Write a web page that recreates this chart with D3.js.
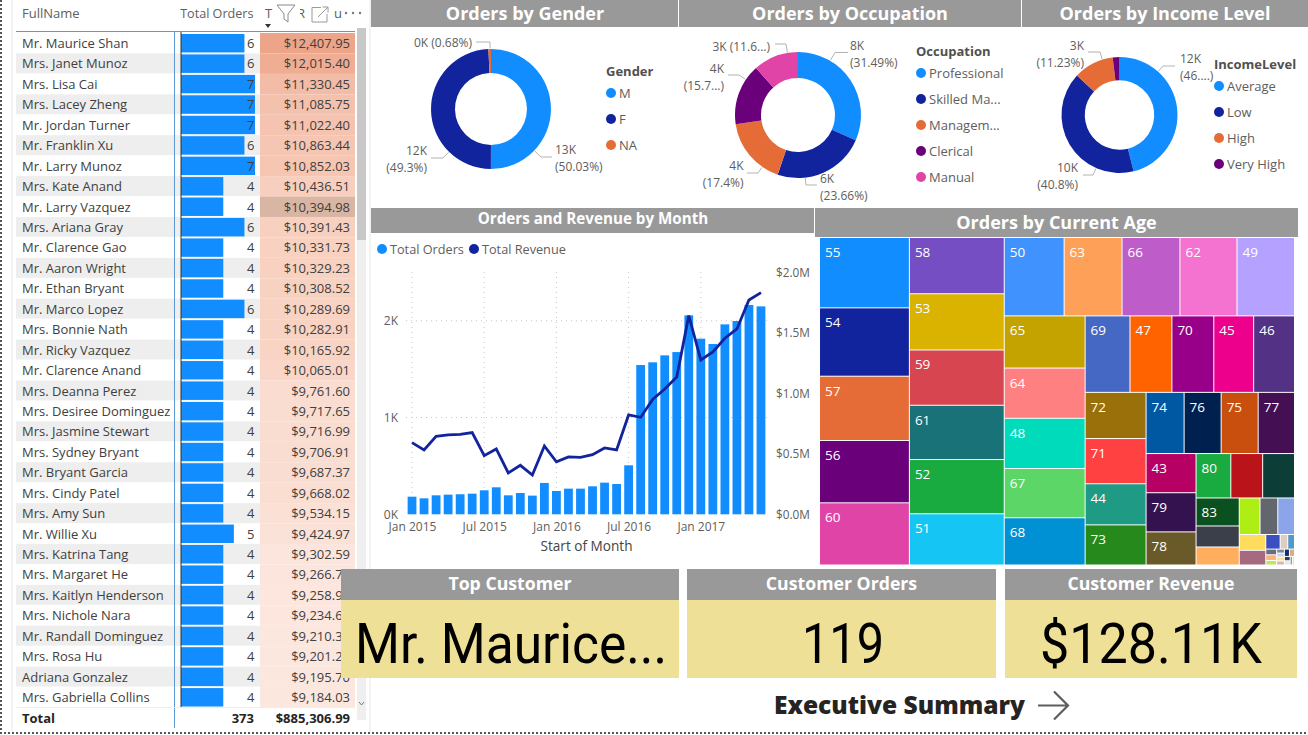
<!DOCTYPE html>
<html><head><meta charset="utf-8">
<script src="https://cdn.jsdelivr.net/npm/d3@7/dist/d3.min.js"></script>
<style>
html,body{margin:0;padding:0;background:#fff;overflow:hidden}
svg{display:block;font-family:"Open Sans",sans-serif}
</style></head><body><svg id="c" width="1308" height="735"></svg>
<script>
// ---------- table data
const customerNames=["Mr. Maurice Shan","Mrs. Janet Munoz","Mrs. Lisa Cai","Mrs. Lacey Zheng","Mr. Jordan Turner","Mr. Franklin Xu","Mr. Larry Munoz","Mrs. Kate Anand","Mr. Larry Vazquez","Mrs. Ariana Gray","Mr. Clarence Gao","Mr. Aaron Wright","Mr. Ethan Bryant","Mr. Marco Lopez","Mrs. Bonnie Nath","Mr. Ricky Vazquez","Mr. Clarence Anand","Mrs. Deanna Perez","Mrs. Desiree Dominguez","Mrs. Jasmine Stewart","Mrs. Sydney Bryant","Mr. Bryant Garcia","Mrs. Cindy Patel","Mrs. Amy Sun","Mr. Willie Xu","Mrs. Katrina Tang","Mrs. Margaret He","Mrs. Kaitlyn Henderson","Mrs. Nichole Nara","Mr. Randall Dominguez","Mrs. Rosa Hu","Adriana Gonzalez","Mrs. Gabriella Collins"];
const customerOrders=[6,6,7,7,7,6,7,4,4,6,4,4,4,6,4,4,4,4,4,4,4,4,4,4,5,4,4,4,4,4,4,4,4];
const customerRevenue=[12407.95,12015.40,11330.45,11085.75,11022.40,10863.44,10852.03,10436.51,10394.98,10391.43,10331.73,10329.23,10308.52,10289.69,10282.91,10165.92,10065.01,9761.60,9717.65,9716.99,9706.91,9687.37,9668.02,9534.15,9424.97,9302.59,9266.70,9258.90,9234.60,9210.30,9201.20,9195.70,9184.03];
// ---------- donut data
const genderCats=["M","F","NA"];
const genderVals=[50.03,49.3,0.68];
const genderLabels=[["13K","(50.03%)"],["12K","(49.3%)"],["0K (0.68%)"]];
const occCats=["Professional","Skilled Ma...","Managem...","Clerical","Manual"];
const occVals=[31.49,23.66,17.4,15.7,11.6];
const occLabels=[["8K","(31.49%)"],["6K","(23.66%)"],["4K","(17.4%)"],["4K","(15.7...)"],["3K (11.6...)"]];
const incomeCats=["Average","Low","High","Very High"];
const incomeVals=[46.1,40.8,11.23,1.87];
const incomeLabels=[["12K","(46....)"],["10K","(40.8%)"],["3K","(11.23%)"]];
const donutColors=["#118DFF","#12239E","#E66C37","#6B007B","#E044A7"];
// ---------- monthly data
const monthCount=30;
const monthOrders=[182,165,196,203,207,213,248,279,196,220,193,324,241,265,265,289,327,313,506,1542,1570,1642,1676,2055,1814,1759,1962,1997,2162,2148];
const monthRevenue=[0.592,0.532,0.645,0.656,0.661,0.675,0.485,0.540,0.342,0.405,0.325,0.565,0.433,0.474,0.471,0.493,0.548,0.532,0.821,0.802,0.950,1.036,1.135,1.642,1.275,1.342,1.455,1.532,1.771,1.832];
const monthTickLabels=["Jan 2015","Jul 2015","Jan 2016","Jul 2016","Jan 2017"];
// ---------- treemap data
const ageLabels=["55","54","57","56","60","58","53","59","61","52","51","50","63","66","62","49","65","64","48","67","68","69","47","70","45","46","72","71","44","73","74","76","75","77","43","79","78","80","","","83"];
const ageOrders=[1024,995,936,907,905,864,864,849,834,833,787,760,735,735,724,730,684,658,658,645,619,556,519,519,494,506,456,446,406,396,377,367,367,360,317,317,268,250,229,229,196,147,126,123,105,99,68,63,34,18,16,10,10,8,5,5,5,5,6,6,4,4,3,3];
const ageColors=["#118DFF","#12239E","#E66C37","#6B007B","#E044A7","#744EC2","#D9B300","#D64550","#197278","#1AAB40","#15C6F4","#4092FF","#FFA058","#BE5DC9","#F472D0","#B5A1FF","#C4A200","#FF8080","#00DBBC","#5BD667","#0091D5","#4668C5","#FF6300","#99008A","#EC008C","#533285","#99700A","#FF4141","#1F9A85","#25891C","#0057A2","#002050","#C94F0F","#450F54","#B60064","#34124F","#6A5A29","#1AAB40","#BA141A","#0C3D37","#0B511F","#3A3F4A","#FFAE5E","#AEEE15","#63666D","#8CA5EA","#FFDC5C","#A56A80","#3A50C0","#E0CDC0","#4F9ACB","#6B7078","#FFB27A","#BCE85C","#7C8AA0","#C9D4F0","#FFE08A","#D8B0C8","#12306E","#D8B080","#333C5A","#E6E6E6","#8A8A8A","#F0E0B0"];
const ageStrips=[5,6,5,5,5,4,4,3,3,3,3,2,3,3,4,2,2,2];

const svg=d3.select("#c");
const GREY="#999999",TXT="#605E5C",YEL="#EEE096",CELL="#404040";
const TITLE='"Open Sans",sans-serif';

// page frame (dotted)
const frame=svg.append("g");
frame.append("line").attr("x1",1).attr("x2",1).attr("y1",0).attr("y2",733).attr("stroke","#555").attr("stroke-width",2).attr("stroke-dasharray","2 2");
frame.append("line").attr("x1",0).attr("x2",1308).attr("y1",733).attr("y2",733).attr("stroke","#555").attr("stroke-width",2).attr("stroke-dasharray","2 2");
frame.append("line").attr("x1",370).attr("x2",370).attr("y1",0).attr("y2",732).attr("stroke","#e6e6e6");
frame.append("line").attr("x1",12).attr("x2",12).attr("y1",0).attr("y2",732).attr("stroke","#e6e6e6");

// ---------- TABLE
(function(){
  const rowH=20.44,top0=33;
  const y=d3.scaleBand().domain(d3.range(customerNames.length)).range([top0,top0+rowH*customerNames.length]);
  const xBar=d3.scaleLinear().domain([0,7]).range([181,255]);
  const color=d3.scaleLinear().domain([9184,10400,12408]).range(["#FCE7DF","#F8D0BF","#EDA58A"]);
  const t=svg.append("g");
  const rows=t.selectAll("g.r").data(customerNames).join("g");
  rows.append("rect").attr("x",16).attr("width",244).attr("y",(d,i)=>y(i)).attr("height",rowH-0.5).attr("fill",(d,i)=>i%2?"#EEEEEE":"#fff");
  rows.append("rect").attr("x",260).attr("width",95).attr("y",(d,i)=>y(i)).attr("height",rowH).attr("fill",(d,i)=>i===8?"#D9B5A3":color(customerRevenue[i]));
  rows.append("rect").attr("x",xBar(0)).attr("width",(d,i)=>xBar(customerOrders[i])-xBar(0)).attr("y",(d,i)=>y(i)+1).attr("height",rowH-2).attr("fill","#118DFF");
  rows.append("text").attr("x",22).attr("y",(d,i)=>y(i)+rowH/2+4.8).attr("font-size",13).attr("fill",CELL).text(d=>d);
  rows.append("text").attr("x",254.5).attr("text-anchor","end").attr("y",(d,i)=>y(i)+rowH/2+4.8).attr("font-size",13).attr("fill",CELL).text((d,i)=>customerOrders[i]);
  rows.append("text").attr("x",350).attr("text-anchor","end").attr("y",(d,i)=>y(i)+rowH/2+4.8).attr("font-size",13).attr("fill",CELL).text((d,i)=>"$"+d3.format(",.2f")(customerRevenue[i]));
  // header
  t.append("text").attr("x",22).attr("y",18).attr("font-size",13).attr("fill",TXT).text("FullName");
  t.append("text").attr("x",253.5).attr("y",18).attr("text-anchor","end").attr("font-size",12.6).attr("fill",TXT).text("Total Orders");
  t.append("text").attr("x",265).attr("y",18).attr("font-size",13).attr("fill",TXT).text("T");
  t.append("path").attr("d","M265 24h6l-3 4z").attr("fill","#333");
  t.append("text").attr("x",297).attr("y",18).attr("font-size",13).attr("fill",TXT).text("R");
  t.append("rect").attr("x",294).attr("y",6).attr("width",6).attr("height",16).attr("fill","#fff");
  t.append("text").attr("x",334).attr("y",18).attr("font-size",13).attr("fill",TXT).text("u");
  t.append("path").attr("d","M277 5h18l-7 9v8l-4-3v-5z").attr("fill","#fff").attr("stroke","#8a8a8a");
  t.append("path").attr("d","M321 7.5H312V22H327V14").attr("fill","none").attr("stroke","#9a9a9a");
  t.append("path").attr("d","M318 17L328 7M322.5 7H328V12.5").attr("fill","none").attr("stroke","#9a9a9a");
  t.selectAll("circle.dot").data([346,353,360]).join("circle").attr("cx",d=>d).attr("cy",13).attr("r",1.2).attr("fill","#777");
  t.append("line").attr("x1",16).attr("x2",355).attr("y1",31.5).attr("y2",31.5).attr("stroke","#5B9BD5");
  t.append("line").attr("x1",174.5).attr("x2",174.5).attr("y1",32).attr("y2",728).attr("stroke","#5B9BD5");
  t.append("line").attr("x1",181).attr("x2",181).attr("y1",32).attr("y2",707).attr("stroke","#333");
  // total row
  t.append("line").attr("x1",16).attr("x2",355).attr("y1",707.5).attr("y2",707.5).attr("stroke","#eee");
  t.append("text").attr("x",22).attr("y",723).attr("font-size",13).attr("font-weight",700).attr("fill","#252423").text("Total");
  t.append("text").attr("x",254).attr("y",723).attr("text-anchor","end").attr("font-size",13).attr("font-weight",700).attr("fill","#252423").text("373");
  t.append("text").attr("x",350).attr("y",723).attr("text-anchor","end").attr("font-size",13).attr("font-weight",700).attr("fill","#252423").text("$885,306.99");
  // scrollbar
  t.append("rect").attr("x",357).attr("y",28).attr("width",9).attr("height",692).attr("fill","#EFEFEF");
  t.append("rect").attr("x",357).attr("y",28).attr("width",9).attr("height",212).attr("fill","#C8C8C8");
  t.append("path").attr("d","M359 702l2.5 3 2.5-3").attr("fill","none").attr("stroke","#777");
})();

// ---------- header bars
function header(x,y,w,h,label,size,cx,dy){
  svg.append("rect").attr("x",x).attr("y",y).attr("width",w).attr("height",h).attr("fill",GREY);
  svg.append("text").attr("x",cx===undefined?x+w/2:cx).attr("y",y+h/2+size*0.36+(dy||0)).attr("text-anchor","middle").attr("font-size",size).attr("font-weight",700).attr("fill","#fff").attr("font-family",TITLE).text(label);
}
header(371,0,307,27,"Orders by Gender",18,525);
header(679,0,342,27,"Orders by Occupation",18,850);
header(1022,0,286,27,"Orders by Income Level",18,1165);
header(371,208,443,25,"Orders and Revenue by Month",15.2,593,-1.5);
header(815,208,483,29,"Orders by Current Age",18);

// ---------- donuts
function donut(cx,cy,R,r,vals,labels,anchors){
  const pie=d3.pie().sort(null)(vals);
  const arc=d3.arc().innerRadius(r).outerRadius(R);
  const g=svg.append("g").attr("transform",`translate(${cx},${cy})`);
  g.selectAll("path").data(pie).join("path").attr("d",arc).attr("fill",(d,i)=>donutColors[i]);
  labels.forEach((l,i)=>{
    const a=anchors[i];
    const p1=[a.lx-cx,a.ly-cy];
    const len=Math.hypot(p1[0],p1[1]);
    const p0=[p1[0]/len*(R+0.5),p1[1]/len*(R+0.5)];
    const p2=[a.ex-cx,a.ly-cy];
    g.append("path").attr("d",d3.line()([p0,p1,p2])).attr("fill","none").attr("stroke","#b3b3b3");
    l.forEach((s,k)=>{
      svg.append("text").attr("x",a.tx).attr("y",a.ty+k*16.7).attr("text-anchor",a.anchor).attr("font-size",12).attr("fill",TXT).text(s);
    });
  });
}
donut(491,109,60,36,genderVals,genderLabels,[
  {lx:541,ly:157,ex:552,tx:555,ty:154,anchor:"start"},
  {lx:443,ly:158,ex:431,tx:427,ty:155,anchor:"end"},
  {lx:490,ly:42,ex:476,tx:472,ty:47,anchor:"end"}]);
donut(798,115,63,37,occVals,occLabels,[
  {lx:835,ly:52.5,ex:848,tx:850,ty:50,anchor:"start"},
  {lx:806,ly:185,ex:817,tx:820,ty:183,anchor:"start"},
  {lx:758,ly:173,ex:747,tx:743.5,ty:170,anchor:"end"},
  {lx:739,ly:75,ex:728,tx:724,ty:73,anchor:"end"},
  {lx:786,ly:44,ex:775,tx:770,ty:51,anchor:"end"}]);
donut(1119.5,115,58,34.7,incomeVals,incomeLabels,[
  {lx:1163,ly:66,ex:1175,tx:1180,ty:63,anchor:"start"},
  {lx:1093,ly:175,ex:1083,tx:1078,ty:172,anchor:"end"},
  {lx:1100,ly:52,ex:1088,tx:1084,ty:50,anchor:"end"}]);
function legend(x,y0,dy,title,cats,ty){
  svg.append("text").attr("x",x).attr("y",ty).attr("font-size",13).attr("font-weight",700).attr("fill","#505050").text(title);
  cats.forEach((c,i)=>{
    svg.append("circle").attr("cx",x+5).attr("cy",y0+i*dy).attr("r",5).attr("fill",donutColors[i]);
    svg.append("text").attr("x",x+13).attr("y",y0+i*dy+4.5).attr("font-size",13).attr("fill",TXT).text(c);
  });
}
legend(606,93,26,"Gender",genderCats,76);
legend(916,73,26,"Occupation",occCats,56);
legend(1214,86,26,"IncomeLevel",incomeCats,69);

// ---------- combo chart
(function(){
  const x=d3.scaleBand().domain(d3.range(monthCount)).range([406,767]).paddingInner(0.27).paddingOuter(0.135);
  const yL=d3.scaleLinear().domain([0,2000]).range([514.3,320.7]);
  const yR=d3.scaleLinear().domain([0,2]).range([514.3,272.3]);
  const g=svg.append("g");
  const cx=i=>x(i)+x.bandwidth()/2;
  const dots="1 4";
  [1000,2000].forEach(v=>g.append("line").attr("x1",406).attr("x2",767).attr("y1",yL(v)).attr("y2",yL(v)).attr("stroke","#c8c8c8").attr("stroke-dasharray",dots));
  monthTickLabels.forEach((s,k)=>g.append("line").attr("x1",cx(k*6)).attr("x2",cx(k*6)).attr("y1",272).attr("y2",514).attr("stroke","#c8c8c8").attr("stroke-dasharray",dots));
  g.selectAll("rect").data(monthOrders).join("rect").attr("x",(d,i)=>x(i)).attr("width",x.bandwidth()).attr("y",d=>yL(d)).attr("height",d=>yL(0)-yL(d)).attr("fill","#118DFF");
  g.append("path").datum(monthRevenue).attr("d",d3.line().x((d,i)=>cx(i)).y(d=>yR(d))).attr("fill","none").attr("stroke","#12239E").attr("stroke-width",2.8);
  const axL=g.append("g").attr("transform","translate(398,0)").call(d3.axisLeft(yL).tickValues([0,1000,2000]).tickFormat(d=>d/1000+"K").tickSize(0));
  const axR=g.append("g").attr("transform","translate(776,0)").call(d3.axisRight(yR).tickValues([0,.5,1,1.5,2]).tickFormat(d=>"$"+d3.format(".1f")(d)+"M").tickSize(0));
  const axX=g.append("g").attr("transform","translate(0,520)").call(d3.axisBottom(d3.scalePoint().domain(monthTickLabels).range([cx(0),cx(24)])).tickSize(0));
  [axL,axR,axX].forEach(a=>{a.select(".domain").remove();a.selectAll("text").attr("font-size",12).attr("font-family",'"Open Sans",sans-serif').attr("fill",TXT);a.selectAll("line").remove();});
  axL.selectAll("text").attr("dy","0.32em").attr("x",0);
  axR.selectAll("text").attr("dy","0.32em").attr("x",0).attr("font-size",11.8);
  axX.selectAll("text").attr("y",0).attr("dy","0.9em");
  g.append("text").attr("x",586.5).attr("y",551).attr("text-anchor","middle").attr("font-size",13.6).attr("fill","#444").text("Start of Month");
  [["Total Orders","#118DFF",382,390],["Total Revenue","#12239E",474,482]].forEach(d=>{
    g.append("circle").attr("cx",d[2]).attr("cy",249).attr("r",5).attr("fill",d[1]);
    g.append("text").attr("x",d[3]).attr("y",254).attr("font-size",12.7).attr("fill",TXT).text(d[0]);
  });
})();

// ---------- treemap
(function(){
  function stripTile(parent,x0,y0,x1,y1){
    const nodes=parent.children;let rem=parent.value,i=0;
    for(const n of ageStrips){
      const slice=nodes.slice(i,i+n);i+=n;
      if(!slice.length)break;
      const sum=d3.sum(slice,d=>d.value);
      const holder={children:slice,value:sum};
      if(x1-x0<y1-y0){
        const h=(y1-y0)*sum/rem;
        d3.treemapDice(holder,x0,y0,x1,y0+h);y0+=h;
      }else{
        const w=(x1-x0)*sum/rem;
        d3.treemapSlice(holder,x0,y0,x0+w,y1);x0+=w;
      }
      rem-=sum;
    }
  }
  const root=d3.hierarchy({children:ageOrders.map((v,i)=>({label:ageLabels[i],value:v,color:ageColors[i]}))}).sum(d=>d.value||0);
  d3.treemap().size([474,326.5]).tile(stripTile).paddingInner(1)(root);
  const g=svg.append("g").attr("transform","translate(820,238)");
  const cell=g.selectAll("g").data(root.leaves()).join("g").attr("transform",d=>`translate(${d.x0},${d.y0})`);
  cell.append("rect").attr("width",d=>Math.max(0,d.x1-d.x0)).attr("height",d=>Math.max(0,d.y1-d.y0)).attr("fill",d=>d.data.color);
  cell.filter(d=>d.data.label).append("text").attr("x",5).attr("y",19).attr("font-size",13.5).attr("fill","#fff").text(d=>d.data.label);
})();

// ---------- KPI cards
function kpi(x,w,title,value,cx,len){
  header(x,569,w,31,title,17.7,undefined,-0.5);
  svg.append("rect").attr("x",x).attr("y",600).attr("width",w).attr("height",78).attr("fill",YEL);
  svg.append("text").attr("x",cx).attr("y",663).attr("text-anchor","middle").attr("font-size",56).attr("fill","#000").attr("font-family",'Roboto,sans-serif')
    .attr("textLength",len).attr("lengthAdjust","spacingAndGlyphs").text(value);
}
kpi(341,338,"Top Customer","Mr. Maurice...",511,312);
kpi(687,309,"Customer Orders","119",843,82);
kpi(1005,292,"Customer Revenue","$128.11K",1151,222);
svg.append("text").attr("x",899.5).attr("y",714).attr("text-anchor","middle").attr("font-size",25).attr("font-weight",800).attr("fill","#252423").attr("textLength",251).attr("lengthAdjust","spacingAndGlyphs").text("Executive Summary");
svg.append("path").attr("d","M1038 705.5H1067M1054 691.5L1068 705.5L1054 719.5").attr("fill","none").attr("stroke","#605E5C").attr("stroke-width",2.2);
</script></body></html>
